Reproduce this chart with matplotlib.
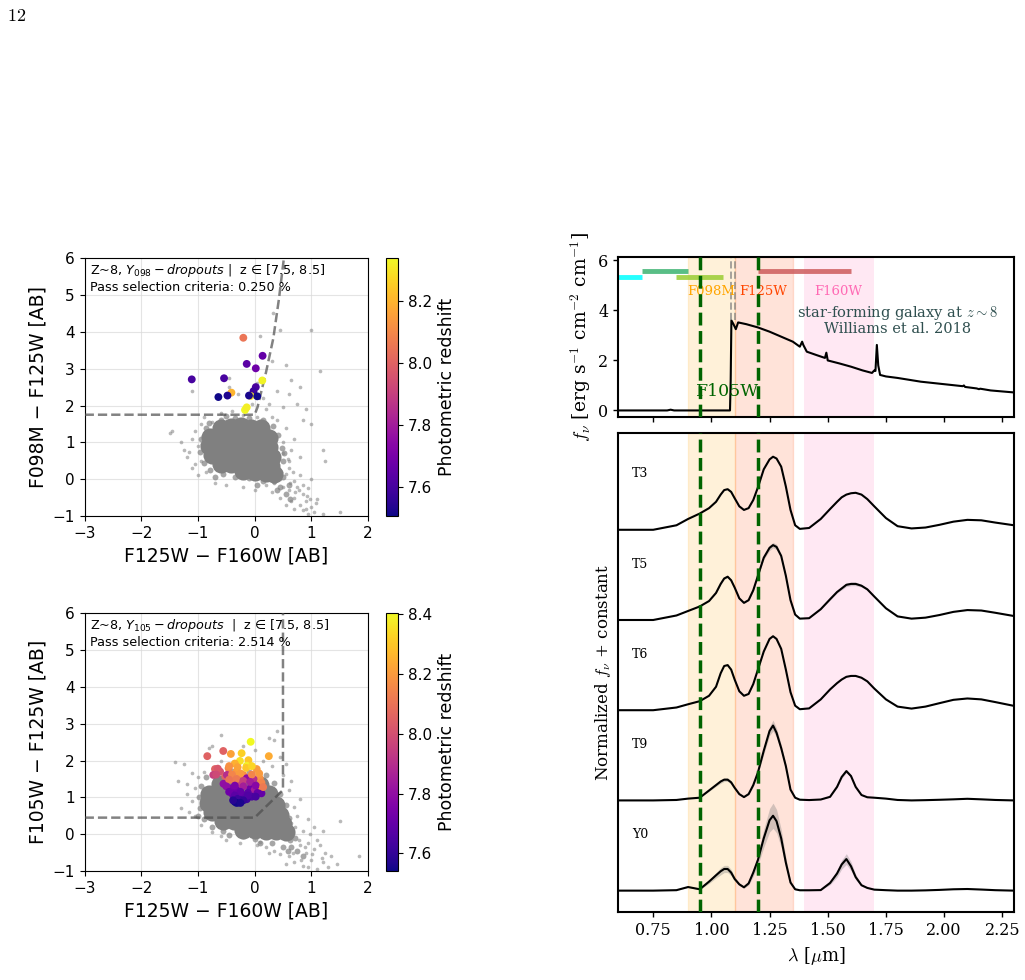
import numpy as np
import matplotlib
matplotlib.use('Agg')
import matplotlib.pyplot as plt

### DATA
# --- left panels: colour-colour diagrams
# gray cloud, panel 1 (F125W-F160W, F098M-F125W) : dense core, edge, sparse
core1_x = [-0.6, -0.42, -0.24, -0.06, 0.12,
           -0.78, -0.6, -0.42, -0.24, -0.06, 0.12, 0.25,
           -0.8, -0.62, -0.44, -0.26, -0.08, 0.1, 0.26,
           -0.75, -0.57, -0.39, -0.21, -0.03, 0.15, 0.3,
           -0.6, -0.42, -0.24, -0.06, 0.12, 0.28,
           -0.2, 0.0, 0.2, 0.35]
core1_y = [1.4, 1.42, 1.43, 1.4, 1.38,
           1.15, 1.16, 1.17, 1.18, 1.16, 1.15, 1.12,
           0.9, 0.9, 0.92, 0.9, 0.9, 0.88, 0.88,
           0.65, 0.66, 0.65, 0.64, 0.63, 0.62, 0.6,
           0.42, 0.4, 0.4, 0.38, 0.38, 0.36,
           0.22, 0.2, 0.18, 0.15]
edge1_x = [-0.85, -0.95, -0.97, -0.9, -0.78, -0.55, -0.35, -0.1, 0.15, 0.35, 0.45, 0.5, 0.48, 0.42, 0.32, 0.15, -0.1,
           -0.35, -0.6, -0.8, 0.45, 0.55, 0.62, 0.5, 0.6, -0.92, -0.7, 0.52, 0.4, 0.05, -0.5]
edge1_y = [1.4, 1.1, 0.75, 0.45, 0.25, 0.15, 0.05, 0.02, -0.05, -0.05, 0.2, 0.5, 0.85, 1.2, 1.45, 1.62, 1.66,
           1.66, 1.6, 1.52, -0.2, -0.4, -0.55, 0.05, -0.15, 0.95, 0.05, 0.7, -0.3, -0.15, 1.72]
sparse1_x = [0.33, 0.45, 1.0, 1.15, 0.55, 0.3, -0.45, -0.45, -1.1, 0.65, 0.8, 0.6, 0.75, 0.4, 0.25, 0.9, 1.0, 0.85,
             0.5, -0.3, -1.5, -1.45, -1.3, -1.25, -1.2, -1.1, -1.0, -0.95, -1.05, -0.9, -0.6, -0.4, 0.2, 0.4,
             0.55, 0.7, 0.65, 0.8, 1.2, 1.25, 0.6, 0.45, 0.5, 0.6, 0.7, 0.75, 0.85, 0.9, 1.0, 0.85, 1.05, 0.95,
             1.2, 1.5, 1.1, 0.95, 0.3, 0.45, 0.55, 0.7, -0.7, -0.5, -0.2, 0.0, 0.2, 0.35, 0.8, 1.0, -0.85,
             -0.95, -1.0, -1.1, 0.5, 0.6, 0.4, -0.2, 0.05, 0.3, -0.75, 0.15, 0.1, 0.05, -0.05, 0.5, 0.7,
             0.55, 0.85, 0.65, 0.8, 0.9, 0.72, 0.62, 0.78, 0.92, 1.08, 0.98, 0.68, 0.58, -1.15, -1.05]
sparse1_y = [4.5, 4.05, 4.05, 2.95, 3.1, 3.2, 2.75, 2.5, 2.4, 2.7, 2.5, 2.3, 2.05, 2.4, 2.05, 1.9, 1.5, 1.6,
             1.95, 2.3, 1.25, 1.3, 1.0, 0.8, 0.6, 0.3, 0.1, 1.5, 1.3, 1.7, 1.8, 1.85, 1.9, 1.6,
             1.4, 1.1, 0.8, 0.6, 0.8, 0.5, 0.3, 0.0, -0.2, -0.3, -0.5, -0.2, -0.4, -0.6, -0.75, -0.85, -0.9, -0.95,
             -0.95, -0.9, -0.55, -0.25, -0.35, -0.5, -0.7, -0.8, -0.1, -0.15, -0.2, -0.3, -0.15, -0.1, 0.1, 0.0, 0.2,
             0.5, 0.9, 1.1, 1.0, 0.5, 0.3, 1.75, 1.7, 1.7, 1.55, 2.2, 3.9, 2.6, 2.05, 0.7, -0.05,
             0.15, -0.15, -0.6, -0.7, -0.8, -0.35, -0.1, -0.3, -0.45, -0.65, -0.55, 0.2, 0.55, 0.75, 0.4]
# selected candidates, panel 1
sel1_x = [-0.20, 0.14, -0.14, 0.02, -1.11, -0.54, 0.135, 0.02, -0.02, -0.41, -0.07, -0.64, -0.48, -0.10, 0.046, -0.17, -0.14]
sel1_y = [3.84, 3.35, 3.13, 3.01, 2.71, 2.74, 2.68, 2.50, 2.39, 2.35, 2.26, 2.23, 2.27, 2.27, 2.25, 1.88, 1.95]
sel1_z = [8.05, 7.66, 7.64, 7.68, 7.60, 7.60, 8.33, 7.60, 7.58, 8.20, 8.30, 7.51, 7.53, 7.52, 7.51, 8.34, 8.32]
cut1_x = [-3.0, 0.0, 0.05, 0.2, 0.33, 0.43, 0.52]
cut1_y = [1.75, 1.75, 1.95, 2.9, 3.83, 4.91, 6.05]

# gray cloud, panel 2 (F125W-F160W, F105W-F125W)
core2_x = [-0.62, -0.44, -0.26, -0.08, 0.1,
           -0.8, -0.62, -0.44, -0.26, -0.08, 0.1, 0.25,
           -0.82, -0.64, -0.46, -0.28, -0.1, 0.08, 0.25, 0.38,
           -0.75, -0.57, -0.39, -0.21, -0.03, 0.15, 0.32, 0.45,
           -0.55, -0.37, -0.19, -0.01, 0.17, 0.35, 0.5,
           -0.2, 0.0, 0.2, 0.38, 0.55]
core2_y = [1.35, 1.38, 1.4, 1.36, 1.33,
           1.1, 1.12, 1.13, 1.14, 1.12, 1.1, 1.08,
           0.85, 0.86, 0.88, 0.88, 0.86, 0.85, 0.84, 0.8,
           0.6, 0.62, 0.62, 0.6, 0.6, 0.58, 0.56, 0.52,
           0.35, 0.36, 0.35, 0.34, 0.33, 0.3, 0.28,
           0.12, 0.12, 0.1, 0.08, 0.05]
edge2_x = [-0.95, -0.98, -0.97, -0.9, -0.75, -0.55, -0.45, -0.2, 0.0, 0.62, 0.65, 0.6, 0.55, 0.45, 0.35, 0.2, -0.1,
           -0.4, -0.7, 0.65, 0.75, 0.72, 0.3, 0.5, 0.85, -0.85, -1.0, 0.58, 0.1, 0.4]
edge2_y = [1.3, 1.0, 0.7, 0.4, 0.2, 0.1, -0.02, -0.05, -0.12, -0.15, 0.15, 0.45, 0.8, 1.1, 1.4, 1.6, 1.7,
           1.72, 1.6, -0.35, -0.45, -0.1, -0.25, -0.35, -0.6, 1.55, 0.5, -0.45, -0.25, -0.05]
sparse2_x = [-0.6, 0.4, 0.35, 0.25, -0.75, -0.8, -0.2, -1.4, -1.25, -1.35, -1.2, -1.05, -1.2, -1.1, -1.15, -1.05, -0.95,
             -0.75, -0.5, -0.25, 0.05, 0.2, 0.25, 0.45, 0.6, 0.7, 0.85, 0.95, 1.0, 1.1, 1.3, 1.35, 1.25, 1.5, 1.85,
             1.45, 1.05, 0.95, 1.1, 0.85, 0.95, 1.05, 0.75, 0.7, 0.8, 0.6, 0.65, 0.5, 0.55, 0.3, 0.45, -0.9, -1.0,
             -0.85, -0.6, 0.0, 0.15, -0.3, 1.15, 0.8, 0.9, 0.65, 1.2, -1.3, -0.6, 0.1, 0.35, 0.55, 1.2, 0.45,
             0.78, 0.88, 1.02, 0.72, 0.98, 1.18, 0.68, 0.82, -1.1]
sparse2_y = [2.7, 2.8, 2.55, 2.6, 2.4, 2.35, 2.4, 1.95, 1.9, 1.45, 1.35, 1.25, 1.1, 0.9, 0.6, 0.5, 0.25,
             0.05, -0.15, -0.25, -0.3, -0.35, -0.5, -0.55, -0.6, -0.75, -0.85, -0.9, -0.7, -0.95, -0.9, -0.6, -0.5, 0.35, -0.6,
             -0.8, -0.4, -0.25, -0.15, 0.1, 0.4, 0.2, 0.5, 0.75, 0.95, 1.2, 1.45, 1.6, 1.9, 1.85, 2.1, 1.7, 1.55,
             2.1, 2.0, 2.3, 2.0, 1.9, -0.3, -0.3, -0.5, 0.3, 0.1, 0.7, -0.05, -0.2, -0.45, -0.8, -0.75, 0.7,
             -0.15, -0.35, -0.55, 0.2, 0.0, -0.65, -0.5, -0.7, 1.65]
# selected candidates, panel 2
sel2_x = [-0.07, -0.836, -0.554, -0.42, -0.23, 0.25, -0.26, -0.11, -0.14, -0.35, -0.70, 0.036, -0.61, -0.46, -0.32, -0.20,
          -0.52, -0.14, 0.09, -0.02, -0.38, -0.55, -0.26, 0.06, -0.43, -0.32, -0.08, 0.12, 0.0, -0.38, -0.20, -0.05,
          -0.26, -0.14, -0.35, -0.29, -0.73, -0.49,
          -0.65, -0.45, -0.3, -0.15, -0.05, -0.68, -0.4, -0.25, -0.05, 0.08, -0.45, -0.32, -0.2, -0.08, 0.12,
          -0.5, -0.35, -0.2, 0.02, 0.15, -0.45, -0.25, -0.12, 0.05, -0.35, -0.12, 0.02, -0.3, -0.2, -0.32, -0.25, -0.38]
sel2_y = [2.51, 2.12, 2.26, 2.18, 2.20, 2.12, 1.99, 2.01, 1.86, 1.92, 1.77, 1.77, 1.70, 1.79, 1.70, 1.61,
          1.57, 1.52, 1.52, 1.50, 1.46, 1.37, 1.37, 1.30, 1.24, 1.20, 1.24, 1.11, 1.20, 1.06, 1.02, 1.02,
          0.93, 0.95, 0.88, 0.86, 1.61, 1.61,
          1.78, 1.85, 1.82, 1.80, 1.85, 1.62, 1.62, 1.65, 1.62, 1.65, 1.48, 1.5, 1.45, 1.42, 1.4,
          1.3, 1.32, 1.3, 1.32, 1.28, 1.15, 1.15, 1.12, 1.12, 1.05, 1.05, 1.02, 0.96, 0.92, 0.85, 0.85, 0.92]
sel2_z = [8.40, 8.05, 8.05, 8.22, 8.32, 8.24, 8.35, 8.30, 8.38, 8.25, 8.05, 8.20, 8.00, 8.15, 8.20, 8.18,
          8.05, 7.80, 8.18, 7.90, 8.15, 7.80, 7.95, 8.20, 7.75, 7.72, 7.72, 7.70, 7.85, 7.70, 7.68, 7.65,
          7.60, 7.62, 7.54, 7.55, 7.95, 7.90,
          8.02, 8.18, 8.22, 8.30, 8.33, 7.98, 8.15, 8.20, 8.15, 8.20, 8.10, 8.12, 7.95, 7.85, 8.15,
          7.80, 7.75, 7.85, 7.78, 8.12, 7.72, 7.70, 7.68, 7.70, 7.68, 7.66, 7.64, 7.62, 7.60, 7.55, 7.56, 7.58]
cut2_x = [-3.0, 0.0, 0.5, 0.5]
cut2_y = [0.45, 0.45, 1.2, 6.05]

# --- right top: template spectrum, Williams et al. 2018
sed_wl = [0.60, 0.81, 0.825, 0.84, 1.080, 1.083, 1.086, 1.095, 1.105, 1.115, 1.15, 1.20, 1.25, 1.30, 1.35, 1.38, 1.39,
          1.395, 1.41, 1.45, 1.488, 1.494, 1.50, 1.55, 1.60, 1.65, 1.69, 1.70, 1.705, 1.711, 1.717, 1.725, 1.75,
          1.80, 1.90, 2.00, 2.08, 2.085, 2.09, 2.14, 2.15, 2.155, 2.20, 2.25, 2.30]
sed_f = [0.0, 0.0, 0.03, 0.0, 0.0, 1.2, 3.6, 3.45, 3.25, 3.52, 3.45, 3.32, 3.15, 2.95, 2.75, 2.55, 2.75,
         2.62, 2.35, 2.22, 2.1, 2.31, 2.0, 1.88, 1.75, 1.6, 1.5, 1.6, 1.58, 2.62, 1.8, 1.42, 1.36,
         1.3, 1.15, 1.05, 0.97, 1.0, 0.94, 0.88, 0.85, 0.87, 0.8, 0.76, 0.72]

# filter coverage bars (start, end, level, colour)
bar_x0 = [0.60, 0.70, 0.85, 1.20]
bar_x1 = [0.70, 0.90, 1.05, 1.60]
bar_y = [5.35, 5.58, 5.35, 5.58]
bar_c = ['cyan', 'mediumseagreen', 'yellowgreen', 'indianred']

# --- right bottom: brown dwarf templates
tmpl_names = ['T3', 'T5', 'T6', 'T9', 'Y0']
wl = [0.60, 0.75, 0.85, 0.90, 0.95, 0.99, 1.02,
      1.04, 1.055, 1.07, 1.085, 1.10, 1.12, 1.14, 1.16, 1.18, 1.20,
      1.225, 1.25, 1.265, 1.28, 1.30, 1.32, 1.34, 1.36, 1.38, 1.42, 1.47, 1.51, 1.54, 1.56, 1.58, 1.60,
      1.62, 1.645, 1.67, 1.70, 1.75, 1.80, 1.86, 1.92, 1.98, 2.04, 2.10, 2.16, 2.22, 2.30]
T3 = [0.0, 0.0, 0.05, 0.12, 0.18, 0.24, 0.31,
      0.39, 0.44, 0.45, 0.42, 0.35, 0.26, 0.22, 0.24, 0.33, 0.47,
      0.67, 0.78, 0.81, 0.79, 0.70, 0.48, 0.22, 0.05, 0.01, 0.02, 0.12, 0.23, 0.31, 0.36, 0.39, 0.405,
      0.41, 0.39, 0.34, 0.26, 0.13, 0.04, 0.015, 0.025, 0.055, 0.09, 0.11, 0.105, 0.08, 0.05]
T5 = [0.0, 0.0, 0.05, 0.10, 0.15, 0.21, 0.30,
      0.40, 0.46, 0.48, 0.44, 0.36, 0.24, 0.19, 0.22, 0.33, 0.49,
      0.69, 0.80, 0.83, 0.81, 0.71, 0.49, 0.22, 0.06, 0.015, 0.02, 0.12, 0.23, 0.31, 0.35, 0.39, 0.40,
      0.40, 0.38, 0.34, 0.26, 0.13, 0.04, 0.015, 0.026, 0.055, 0.09, 0.11, 0.105, 0.08, 0.044]
T6 = [0.0, 0.0, 0.03, 0.066, 0.10, 0.16, 0.26,
      0.41, 0.49, 0.50, 0.45, 0.34, 0.21, 0.16, 0.18, 0.29, 0.45,
      0.65, 0.79, 0.82, 0.79, 0.68, 0.45, 0.20, 0.05, 0.011, 0.02, 0.12, 0.23, 0.30, 0.34, 0.37, 0.38,
      0.38, 0.36, 0.32, 0.24, 0.12, 0.04, 0.018, 0.04, 0.078, 0.115, 0.13, 0.12, 0.09, 0.048]
T9 = [0.0, 0.0, 0.005, 0.02, 0.03, 0.11, 0.17,
      0.21, 0.23, 0.23, 0.20, 0.14, 0.07, 0.037, 0.07, 0.17, 0.31,
      0.55, 0.77, 0.83, 0.75, 0.58, 0.38, 0.12, 0.03, 0.008, 0.004, 0.01, 0.04, 0.15, 0.26, 0.325, 0.27,
      0.15, 0.06, 0.035, 0.03, 0.02, 0.005, 0.0, 0.003, 0.007, 0.012, 0.018, 0.012, 0.005, 0.0]
Y0 = [0.0, 0.0, 0.005, 0.04, 0.015, 0.10, 0.17,
      0.215, 0.24, 0.24, 0.20, 0.13, 0.07, 0.037, 0.08, 0.20, 0.34,
      0.58, 0.78, 0.83, 0.77, 0.58, 0.31, 0.09, 0.015, 0.004, 0.004, 0.006, 0.085, 0.19, 0.29, 0.35, 0.27,
      0.15, 0.06, 0.03, 0.011, 0.005, 0.0, 0.0, 0.003, 0.008, 0.015, 0.018, 0.012, 0.005, 0.0]
# scatter of the template family (half width of gray band)
T5_err = [0, 0, 0, 0, 0, 0, 0.005,
          0.01, 0.01, 0.01, 0.01, 0.008, 0.005, 0.005, 0.005, 0.008, 0.01,
          0.02, 0.03, 0.03, 0.03, 0.02, 0.01, 0.005, 0, 0, 0, 0.005, 0.01, 0.01, 0.015, 0.02, 0.02,
          0.02, 0.015, 0.01, 0.005, 0, 0, 0, 0, 0, 0, 0, 0, 0, 0]
T9_err = [0, 0, 0, 0, 0, 0.01, 0.015,
          0.02, 0.02, 0.02, 0.02, 0.015, 0.01, 0.005, 0.008, 0.015, 0.02,
          0.04, 0.05, 0.06, 0.05, 0.04, 0.02, 0.01, 0, 0, 0, 0, 0.005, 0.01, 0.015, 0.02, 0.015,
          0.01, 0.005, 0, 0, 0, 0, 0, 0, 0, 0, 0, 0, 0, 0]
Y0_err = [0, 0, 0, 0.005, 0.005, 0.02, 0.03,
          0.04, 0.04, 0.04, 0.035, 0.025, 0.015, 0.01, 0.02, 0.04, 0.06,
          0.1, 0.13, 0.14, 0.13, 0.1, 0.06, 0.02, 0.005, 0, 0, 0, 0.02, 0.04, 0.05, 0.06, 0.05,
          0.03, 0.01, 0.005, 0, 0, 0, 0, 0, 0, 0, 0, 0, 0, 0]
tmpl_flux = [T3, T5, T6, T9, Y0]
tmpl_err = [None, T5_err, None, T9_err, Y0_err]
tmpl_off = [4, 3, 2, 1, 0]


### PLOTTING
plt.rcParams['font.family'] = 'DejaVu Sans'
plt.rcParams['mathtext.fontset'] = 'dejavusans'
serif = 'DejaVu Serif'

fig = plt.figure(figsize=(10.25, 9.8), dpi=100)

def cc_panel(rect, crect, core_x, core_y, edge_x, edge_y, sp_x, sp_y, cx, cy, sx, sy, sz, vmin, vmax,
             cticks, ylab, txt):
    ax = fig.add_axes(rect)
    ax.grid(color='0.85', lw=0.8, alpha=0.7)
    ax.set_axisbelow(True)
    ax.scatter(core_x, core_y, s=170, c='gray', lw=0, zorder=2)
    ax.scatter(edge_x, edge_y, s=18, c='gray', lw=0, alpha=0.7, zorder=2)
    ax.scatter(sp_x, sp_y, s=7, c='gray', lw=0, alpha=0.55, zorder=2)
    ax.plot(cx, cy, ls='--', color='0.3', alpha=0.7, lw=1.8, zorder=3)
    sc = ax.scatter(sx, sy, c=sz, s=32, cmap='plasma', vmin=vmin, vmax=vmax, lw=0, zorder=4)
    ax.set_xlim(-3, 2)
    ax.set_ylim(-1, 6)
    ax.set_xticks([-3, -2, -1, 0, 1, 2])
    ax.tick_params(labelsize=11)
    ax.set_xlabel('F125W − F160W [AB]', fontsize=13.5)
    ax.set_ylabel(ylab, fontsize=13.5)
    ax.text(0.02, 0.985, txt, transform=ax.transAxes, va='top', ha='left', fontsize=9.2, linespacing=1.2)
    cax = fig.add_axes(crect)
    cb = fig.colorbar(sc, cax=cax, ticks=cticks)
    cb.ax.tick_params(labelsize=11)
    cb.set_label('Photometric redshift', fontsize=12.5)
    return ax

cc_panel([0.0826, 0.4735, 0.2764, 0.263], [0.3763, 0.4735, 0.0123, 0.263],
         core1_x, core1_y, edge1_x, edge1_y, sparse1_x, sparse1_y, cut1_x, cut1_y,
         sel1_x, sel1_y, sel1_z, 7.505, 8.34, [7.6, 7.8, 8.0, 8.2], 'F098M − F125W [AB]',
         'Z~8, $Y_{098}-dropouts$ |  z ∈ [7.5, 8.5]\nPass selection criteria: 0.250 %')
cc_panel([0.0826, 0.1112, 0.2764, 0.263], [0.3763, 0.1112, 0.0123, 0.263],
         core2_x, core2_y, edge2_x, edge2_y, sparse2_x, sparse2_y, cut2_x, cut2_y,
         sel2_x, sel2_y, sel2_z, 7.541, 8.403, [7.6, 7.8, 8.0, 8.2, 8.4], 'F105W − F125W [AB]',
         'Z~8, $Y_{105}-dropouts$  |  z ∈ [7.5, 8.5]\nPass selection criteria: 2.514 %')

# right hand side
ax1 = fig.add_axes([0.6032, 0.5748, 0.386, 0.1633])
ax2 = fig.add_axes([0.6032, 0.0691, 0.386, 0.4888], sharex=ax1)

for ax in [ax1, ax2]:
    ax.axvspan(0.9, 1.1, color='orange', alpha=0.15, lw=1)
    ax.axvspan(1.1, 1.35, color='orangered', alpha=0.15, lw=1)
    ax.axvspan(1.4, 1.7, color='hotpink', alpha=0.15, lw=0)
    ax.axvline(0.95, color='darkgreen', ls='--', lw=2.5, zorder=5)
    ax.axvline(1.2, color='darkgreen', ls='--', lw=2.5, zorder=5)
    for s in ax.spines.values():
        s.set_linewidth(1.5)
    ax.tick_params(labelsize=11.5, labelfontfamily=serif, width=1.0)

ax1.plot(sed_wl, sed_f, 'k', lw=1.5)
for x0, x1, yy, cc in zip(bar_x0, bar_x1, bar_y, bar_c):
    ax1.plot([x0, x1], [yy, yy], color=cc, lw=3.5, alpha=0.85, solid_capstyle='butt')
ax1.plot([1.084, 1.084], [3.6, 6.3], color='gray', ls='--', lw=1.4, alpha=0.7)
ax1.plot([1.101, 1.101], [3.6, 6.3], color='gray', ls='--', lw=1.4, alpha=0.7)
ax1.text(1.0, 4.75, 'F098M', color='orange', fontsize=9.5, family=serif, ha='center', va='center')
ax1.text(1.224, 4.75, 'F125W', color='orangered', fontsize=9.5, family=serif, ha='center', va='center')
ax1.text(1.547, 4.75, 'F160W', color='hotpink', fontsize=9.5, family=serif, ha='center', va='center')
ax1.text(1.07, 0.75, 'F105W', color='darkgreen', fontsize=12.5, family=serif, ha='center', va='center')
ax1.text(1.8, 3.9, r'star-forming galaxy at $z\sim8$', color='darkslategray', fontsize=10.5, family=serif,
         ha='center', va='center', math_fontfamily='cm')
ax1.text(1.8, 3.25, 'Williams et al. 2018', color='darkslategray', fontsize=10.5, family=serif,
         ha='center', va='center')
ax1.set_ylim(-0.25, 6.15)
ax1.set_yticks([0, 2, 4, 6])
ax1.tick_params(labelbottom=False)
ax1.set_ylabel(r'$f_\nu$ [erg s$^{-1}$ cm$^{-2}$ cm$^{-1}$]', fontsize=13.5, family=serif, math_fontfamily='cm')

for name, fl, er, off in zip(tmpl_names, tmpl_flux, tmpl_err, tmpl_off):
    fl = np.array(fl) + off
    if er is not None:
        er = np.array(er)
        ax2.fill_between(wl, fl - er, fl + er, color='gray', alpha=0.35, lw=0)
    ax2.plot(wl, fl, 'k', lw=1.5)
    ax2.text(0.66, off + 0.62, name, fontsize=9, family=serif, va='center', ha='left')
ax2.set_ylim(-0.24, 5.07)
ax2.set_yticks([])
ax2.set_xlim(0.6, 2.3)
ax2.set_xticks([0.75, 1.0, 1.25, 1.5, 1.75, 2.0, 2.25])
ax2.set_xlabel(r'$\lambda$ [$\mu$m]', fontsize=13, family=serif, math_fontfamily='cm')
ax2.set_ylabel(r'Normalized $f_\nu$ + constant', fontsize=12, family=serif, math_fontfamily='cm')

fig.text(0.007, 0.993, r'$\mathrm{12}$', fontsize=13, va='top', math_fontfamily='cm')

plt.savefig('out.png', dpi=100)
